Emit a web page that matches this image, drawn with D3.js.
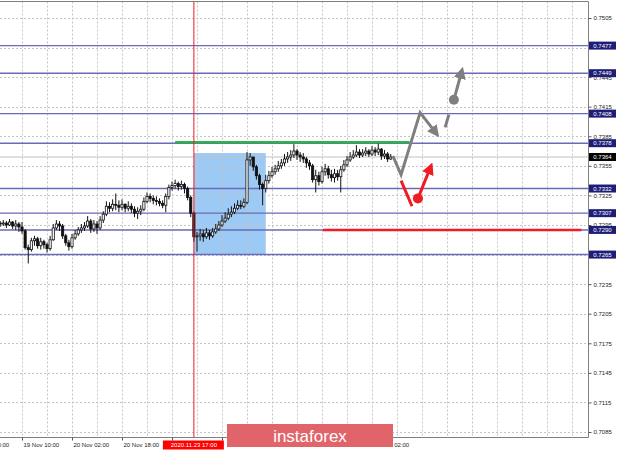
<!DOCTYPE html>
<html>
<head>
<meta charset="utf-8">
<script src="https://cdnjs.cloudflare.com/ajax/libs/d3/7.8.5/d3.min.js"></script>
<style>
body { margin: 0; background: #fff; }
svg text { font-family: "Liberation Sans", Arial, sans-serif; }
</style>
</head>
<body>
<svg id="chart" width="620" height="453"></svg>
<script>
// hourly bars, bar 0 = 19 Nov 03:00
var firstOpen = 0.7297;
var closes = [
  0.7296,0.7297,0.7295,0.7298,0.7294,0.7296,0.7293,0.7289,0.7272,0.7270,
  0.7279,0.7281,0.7274,0.7278,0.7275,0.7271,0.7280,0.7292,0.7296,0.7294,
  0.7284,0.7277,0.7273,0.7282,0.7286,0.7290,0.7292,0.7294,0.7299,0.7291,
  0.7296,0.7292,0.7300,0.7306,0.7314,0.7312,0.7316,0.7315,0.7313,0.7316,
  0.7312,0.7314,0.7311,0.7307,0.7309,0.7311,0.7319,0.7324,0.7322,0.7320,
  0.7319,0.7317,0.7315,0.7324,0.7333,0.7335,0.7337,0.7334,0.7336,0.7332,
  0.7323,0.7307,0.7283,0.7284,0.7286,0.7283,0.7287,0.7284,0.7288,0.7291,
  0.7295,0.7299,0.7302,0.7306,0.7308,0.7312,0.7315,0.7314,0.7318,0.7361,
  0.7364,0.7354,0.7345,0.7336,0.7332,0.7340,0.7345,0.7349,0.7352,0.7355,
  0.7358,0.7362,0.7364,0.7366,0.7370,0.7366,0.7364,0.7362,0.7358,0.7355,
  0.7341,0.7345,0.7339,0.7349,0.7352,0.7346,0.7343,0.7347,0.7344,0.7351,
  0.7356,0.7361,0.7364,0.7366,0.7369,0.7366,0.7368,0.7370,0.7367,0.7371,
  0.7369,0.7372,0.7365,0.7367,0.7362,0.7364
];
var highs = [
  0.7299,0.7300,0.7299,0.7301,0.7299,0.7300,0.7298,0.7298,0.7291,0.7275,
  0.7282,0.7284,0.7283,0.7282,0.7280,0.7277,0.7284,0.7296,0.7300,0.7299,
  0.7296,0.7286,0.7280,0.7286,0.7290,0.7293,0.7296,0.7298,0.7304,0.7301,
  0.7300,0.7299,0.7304,0.7309,0.7319,0.7318,0.7321,0.7327,0.7320,0.7321,
  0.7317,0.7319,0.7317,0.7314,0.7313,0.7315,0.7323,0.7328,0.7327,0.7325,
  0.7324,0.7322,0.7320,0.7327,0.7336,0.7339,0.7341,0.7339,0.7340,0.7338,
  0.7334,0.7325,0.7309,0.7288,0.7291,0.7290,0.7292,0.7290,0.7292,0.7296,
  0.7299,0.7305,0.7308,0.7312,0.7314,0.7317,0.7320,0.7320,0.7322,0.7369,
  0.7368,0.7364,0.7356,0.7347,0.7338,0.7346,0.7350,0.7354,0.7356,0.7360,
  0.7362,0.7367,0.7369,0.7371,0.7377,0.7372,0.7369,0.7368,0.7364,0.7361,
  0.7357,0.7351,0.7349,0.7354,0.7357,0.7355,0.7351,0.7352,0.7351,0.7355,
  0.7361,0.7365,0.7369,0.7371,0.7376,0.7372,0.7372,0.7374,0.7372,0.7375,
  0.7374,0.7378,0.7373,0.7371,0.7369,0.7367
];
var lows = [
  0.7293,0.7294,0.7292,0.7294,0.7291,0.7290,0.7288,0.7286,0.7270,0.7256,
  0.7268,0.7274,0.7271,0.7270,0.7271,0.7267,0.7269,0.7279,0.7290,0.7289,
  0.7281,0.7274,0.7269,0.7271,0.7280,0.7284,0.7287,0.7289,0.7292,0.7287,
  0.7288,0.7286,0.7290,0.7297,0.7304,0.7308,0.7309,0.7310,0.7308,0.7310,
  0.7308,0.7309,0.7307,0.7303,0.7301,0.7305,0.7309,0.7317,0.7318,0.7316,
  0.7315,0.7314,0.7312,0.7308,0.7321,0.7330,0.7332,0.7330,0.7331,0.7327,
  0.7320,0.7303,0.7278,0.7268,0.7279,0.7278,0.7281,0.7280,0.7282,0.7286,
  0.7289,0.7293,0.7297,0.7300,0.7303,0.7306,0.7310,0.7311,0.7312,0.7316,
  0.7355,0.7350,0.7341,0.7331,0.7315,0.7328,0.7337,0.7343,0.7346,0.7349,
  0.7352,0.7355,0.7358,0.7360,0.7363,0.7361,0.7359,0.7358,0.7353,0.7351,
  0.7338,0.7328,0.7335,0.7337,0.7345,0.7342,0.7339,0.7338,0.7340,0.7328,
  0.7349,0.7354,0.7359,0.7362,0.7364,0.7363,0.7364,0.7365,0.7364,0.7365,
  0.7365,0.7366,0.7361,0.7362,0.7359,0.7361
];

var priceTicks = [0.7505,0.7475,0.7445,0.7415,0.7385,0.7355,0.7325,0.7295,0.7265,0.7235,0.7205,0.7175,0.7145,0.7115,0.7085];
var levels = [0.7477,0.7449,0.7408,0.7378,0.7332,0.7307,0.7290,0.7265];
var bidPrice = 0.7364;

var timeBars = [-9,7,23,39,55,71,87,103,119];
var timeTexts = ["18 Nov 18:00","19 Nov 10:00","20 Nov 02:00","20 Nov 18:00","23 Nov 10:00","24 Nov 02:00","24 Nov 18:00","25 Nov 10:00","26 Nov 02:00"];
var markerBar = 62, markerText = "2020.11.23 17:00";

var zoneBars = [62, 85], zonePrices = [0.7368, 0.7265];
var greenBars = [56, 131], greenPrice = 0.7379;
var redBars = [103.3, 186], redPrice = 0.7290;

// forecast drawings, [bar, price]
var grayPath = [[125.7,0.7365],[128.3,0.7346],[134.4,0.7409],[139.8,0.7387]];
var grayDash = [[142.4,0.7394],[143.6,0.7407]];
var grayUp = [[145.2,0.7422],[147.8,0.7452]];
var redDown = [[128.3,0.7340],[131.8,0.7314]];
var redUp = [[133.7,0.7322],[137.9,0.7355]];

var svg = d3.select("#chart"),
    plotRight = 588,
    plotTop = 1.5,
    plotBottom = 437,
    fmt = d3.format(".4f");

var x = d3.scaleLinear().domain([0, 186]).range([0.125, 0.125 + 186 * 3.125]);
var y = d3.scaleLinear().domain([0.7085, 0.7505]).range([432, 18]);

svg.append("rect").attr("width", 620).attr("height", 453).attr("fill", "#fff");

svg.append("clipPath").attr("id", "plot")
  .append("rect").attr("x", 0).attr("y", plotTop).attr("width", plotRight).attr("height", plotBottom - plotTop);

var defs = svg.append("defs");
function arrowMarker(id, color) {
  defs.append("marker")
      .attr("id", id)
      .attr("viewBox", "0 0 10 10")
      .attr("refX", 7).attr("refY", 5)
      .attr("markerUnits", "userSpaceOnUse")
      .attr("markerWidth", 12).attr("markerHeight", 12)
      .attr("orient", "auto")
    .append("path").attr("d", "M0,0 L10,5 L0,10 z").attr("fill", color);
}
arrowMarker("headGray", "#7f7f7f");
arrowMarker("headRed", "#f01c24");

var plot = svg.append("g").attr("clip-path", "url(#plot)");

// blue zone
plot.append("rect")
    .attr("x", x(zoneBars[0]))
    .attr("y", y(zonePrices[0]))
    .attr("width", x(zoneBars[1]) - x(zoneBars[0]))
    .attr("height", y(zonePrices[1]) - y(zonePrices[0]))
    .attr("fill", "#9ccaf4");

// grid
plot.append("g").selectAll("line")
  .data(priceTicks)
  .enter().append("line")
    .attr("x1", 0).attr("x2", plotRight)
    .attr("y1", function(d) { return Math.round(y(d)) + 0.5; })
    .attr("y2", function(d) { return Math.round(y(d)) + 0.5; })
    .attr("stroke", "#c4c4c4").attr("stroke-dasharray", "2,2");

plot.append("g").selectAll("line")
  .data(d3.range(-1, 190, 8))
  .enter().append("line")
    .attr("x1", function(d) { return Math.round(x(d)) + 0.5; })
    .attr("x2", function(d) { return Math.round(x(d)) + 0.5; })
    .attr("y1", plotTop).attr("y2", plotBottom)
    .attr("stroke", "#c4c4c4").attr("stroke-dasharray", "2,2");

// support / resistance levels
plot.append("g").selectAll("line")
  .data(levels)
  .enter().append("line")
    .attr("x1", 0).attr("x2", plotRight)
    .attr("y1", function(d) { return y(d); })
    .attr("y2", function(d) { return y(d); })
    .attr("stroke", "#6a6ab6").attr("stroke-width", 1.4);

// bid line
plot.append("line")
    .attr("x1", 0).attr("x2", plotRight)
    .attr("y1", y(bidPrice)).attr("y2", y(bidPrice))
    .attr("stroke", "#c0c0c0");

// candles
var bars = closes.map(function(c, i) {
  var o = i === 0 ? firstOpen : closes[i - 1];
  return { i: i, o: o, c: c, h: Math.max(highs[i], o, c), l: Math.min(lows[i], o, c) };
});

var candle = plot.append("g").selectAll("g")
  .data(bars)
  .enter().append("g");

candle.append("line")
    .attr("x1", function(d) { return x(d.i); })
    .attr("x2", function(d) { return x(d.i); })
    .attr("y1", function(d) { return y(d.h); })
    .attr("y2", function(d) { return y(d.l); })
    .attr("stroke", "#111").attr("stroke-width", 1);

candle.append("rect")
    .attr("x", function(d) { return x(d.i) - 1.1; })
    .attr("y", function(d) { return y(Math.max(d.o, d.c)); })
    .attr("width", 2.2)
    .attr("height", function(d) { return Math.max(0.8, Math.abs(y(d.o) - y(d.c))); })
    .attr("fill", function(d) { return d.c >= d.o ? "#fff" : "#111"; })
    .attr("stroke", "#111").attr("stroke-width", 0.8);

// green and red horizontal lines
plot.append("line")
    .attr("x1", x(greenBars[0])).attr("x2", x(greenBars[1]))
    .attr("y1", y(greenPrice)).attr("y2", y(greenPrice))
    .attr("stroke", "#2db34a").attr("stroke-width", 2.5);

plot.append("line")
    .attr("x1", x(redBars[0])).attr("x2", x(redBars[1]))
    .attr("y1", y(redPrice)).attr("y2", y(redPrice))
    .attr("stroke", "#f01c24").attr("stroke-width", 2.5);

// red vertical marker
plot.append("line")
    .attr("x1", x(markerBar)).attr("x2", x(markerBar))
    .attr("y1", plotTop).attr("y2", plotBottom)
    .attr("stroke", "#f01c24").attr("stroke-width", 1);

// forecast arrows
var line = d3.line()
    .x(function(d) { return x(d[0]); })
    .y(function(d) { return y(d[1]); });

plot.append("path").attr("d", line(grayPath))
    .attr("fill", "none").attr("stroke", "#7f7f7f").attr("stroke-width", 3)
    .attr("stroke-linejoin", "miter").attr("marker-end", "url(#headGray)");
plot.append("path").attr("d", line(grayDash))
    .attr("fill", "none").attr("stroke", "#7f7f7f").attr("stroke-width", 3);
plot.append("path").attr("d", line(grayUp))
    .attr("fill", "none").attr("stroke", "#7f7f7f").attr("stroke-width", 3)
    .attr("marker-end", "url(#headGray)");
plot.append("circle")
    .attr("cx", x(grayUp[0][0])).attr("cy", y(grayUp[0][1])).attr("r", 5)
    .attr("fill", "#7f7f7f");

plot.append("path").attr("d", line(redDown))
    .attr("fill", "none").attr("stroke", "#f01c24").attr("stroke-width", 3);
plot.append("path").attr("d", line(redUp))
    .attr("fill", "none").attr("stroke", "#f01c24").attr("stroke-width", 3)
    .attr("marker-end", "url(#headRed)");
plot.append("circle")
    .attr("cx", x(redUp[0][0])).attr("cy", y(redUp[0][1])).attr("r", 5)
    .attr("fill", "#f01c24");

// frame
svg.append("path")
    .attr("d", "M0," + plotTop + "H" + (plotRight + 0.5) + "V" + (plotBottom + 0.5) + "H0")
    .attr("fill", "none").attr("stroke", "#808080");

// price axis: a tick label hidden under a level tag is not shown
var tagPrices = levels.concat([bidPrice]);
function underTag(p) {
  return tagPrices.some(function(v) { return Math.abs(y(v) - y(p)) < 3; });
}
var yAxis = svg.append("g")
    .attr("transform", "translate(" + (plotRight + 0.5) + ",0)")
    .call(d3.axisRight(y).tickValues(priceTicks)
      .tickFormat(function(d) { return underTag(d) ? "" : fmt(d); })
      .tickSize(3).tickPadding(2).tickSizeOuter(0));
yAxis.select(".domain").remove();
yAxis.selectAll("line").attr("stroke", "#555");
yAxis.selectAll("text").attr("font-size", 6).attr("fill", "#222")
    .attr("font-family", "Liberation Sans, Arial, sans-serif");

// level labels
var tags = svg.append("g").selectAll("g")
  .data(levels.map(function(v) { return { v: v, bg: "#1e1e78" }; }).concat([{ v: bidPrice, bg: "#000" }]))
  .enter().append("g")
    .attr("transform", function(d) { return "translate(589," + y(d.v) + ")"; });
tags.append("rect")
    .attr("x", 0).attr("y", -4).attr("width", 27).attr("height", 8)
    .attr("fill", function(d) { return d.bg; });
tags.append("text")
    .attr("x", 13.5).attr("y", 0).attr("dy", "0.35em")
    .attr("text-anchor", "middle").attr("font-size", 6).attr("fill", "#fff")
    .text(function(d) { return fmt(d.v); });

// time axis: labels covered by the time tag or the watermark are left out
var markX = x(markerBar);
function covered(b) {
  var px = x(b);
  return (px > markX - 40 && px < markX + 31) || (px > 227 - 45 && px < 393 - 25);
}
var xAxis = svg.append("g")
    .attr("transform", "translate(0," + (plotBottom + 0.5) + ")")
    .call(d3.axisBottom(x).tickValues(timeBars)
      .tickFormat(function(d, i) { return covered(d) ? "" : timeTexts[i]; })
      .tickSize(3).tickSizeOuter(0));
xAxis.select(".domain").remove();
xAxis.selectAll("line").attr("stroke", "#555");
xAxis.selectAll("text").attr("font-size", 6).attr("fill", "#222")
    .attr("text-anchor", "start").attr("dx", 1).attr("y", 5)
    .attr("font-family", "Liberation Sans, Arial, sans-serif");

// red time tag
var tt = svg.append("g").attr("transform", "translate(" + markX + "," + (plotBottom + 8) + ")");
tt.append("rect").attr("x", -31).attr("y", -4.5).attr("width", 61).attr("height", 9).attr("fill", "#ff0000");
tt.append("text").attr("text-anchor", "middle").attr("dy", "0.35em")
    .attr("font-size", 6).attr("fill", "#fff").text(markerText);

// watermark
svg.append("rect")
    .attr("x", 227).attr("y", 424).attr("width", 166).attr("height", 23)
    .attr("fill", "#e0646a");
svg.append("text")
    .attr("x", 310).attr("y", 442)
    .attr("text-anchor", "middle")
    .attr("font-family", "Open Sans, Lato, sans-serif")
    .attr("font-size", 17).attr("font-weight", 300)
    .attr("fill", "#fff")
    .text("instaforex");
</script>
</body>
</html>
